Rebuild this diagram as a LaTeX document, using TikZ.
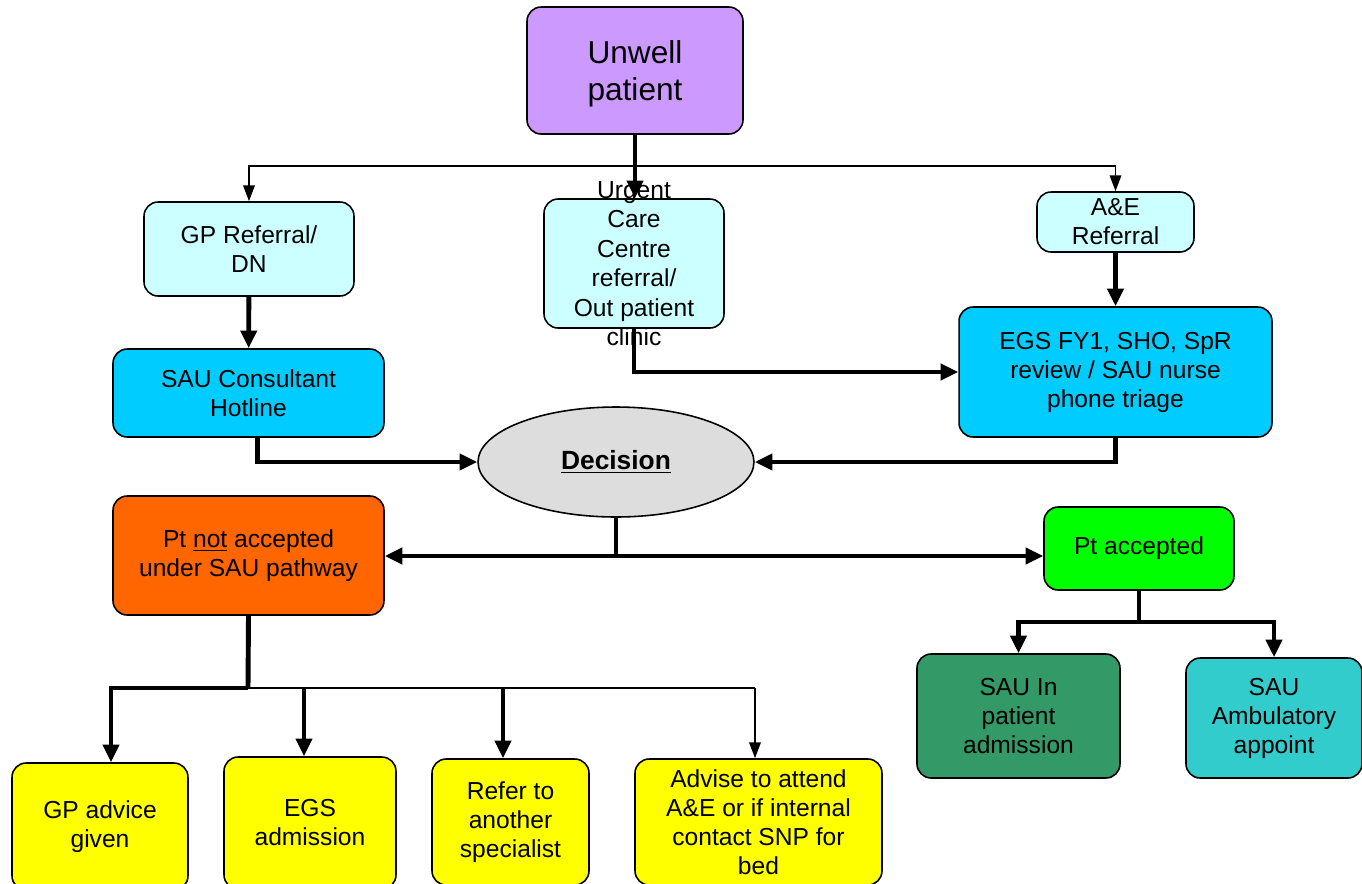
\documentclass[tikz,border=0pt]{standalone}
\usepackage{fontspec}
\setmainfont{Liberation Sans}
\usetikzlibrary{arrows.meta, shapes.geometric}

\definecolor{unwellfill}{HTML}{CC99FF}
\definecolor{reffill}{HTML}{CCFFFF}
\definecolor{reviewfill}{HTML}{00CCFF}
\definecolor{decisionfill}{HTML}{DDDDDD}
\definecolor{rejectfill}{HTML}{FF6600}
\definecolor{acceptfill}{HTML}{00FF00}
\definecolor{inpatfill}{HTML}{339966}
\definecolor{ambfill}{HTML}{33CCCC}
\definecolor{outcomefill}{HTML}{FFFF00}

\begin{document}
\begin{tikzpicture}[x=0.02cm, y=-0.02cm]

\tikzset{box/.style = {shape=rectangle, draw, rounded corners=8pt, line width=0.9pt, align=center, inner sep=2pt, font=\fontsize{14}{16.5}\selectfont}}
\tikzset{link/.style = {line width=2.8pt}}
\tikzset{edge/.style = {link, -{Triangle[length=10pt,width=9pt]}}}
\tikzset{thinlink/.style = {line width=1.1pt}}
\tikzset{thinedge/.style = {thinlink, -{Triangle[length=9pt,width=6.5pt]}}}

\useasboundingbox (0,0) rectangle (1362,883);
% vertices
\node[box, fill=unwellfill, minimum width=4.32cm, minimum height=2.54cm, font=\fontsize{18}{21}\selectfont, text depth=0pt] (unwell) at (635,70.5) {Unwell\\patient};
\node[box, fill=reffill, minimum width=4.2cm, minimum height=1.88cm] (gp) at (249,249) {GP Referral/\\DN};
\node[box, fill=reffill, minimum width=3.6cm, minimum height=2.58cm] (ucc) at (634,263.5) {};
\node[align=center, font=\fontsize{14}{16.8}\selectfont] (ucctext) at (ucc.center) {Urgent\\Care\\Centre\\referral/\\Out patient\\clinic};
\node[box, fill=reffill, minimum width=3.14cm, minimum height=1.2cm] (ae) at (1115.5,222) {A\&E\\Referral};
\node[box, fill=reviewfill, minimum width=6.26cm, minimum height=2.6cm] (egs) at (1115.5,372) {EGS FY1, SHO, SpR\\review / SAU nurse\\phone triage};
\node[box, fill=reviewfill, minimum width=5.42cm, minimum height=1.76cm] (hotline) at (248.5,393) {SAU Consultant\\Hotline};
\node[shape=ellipse, draw, line width=0.9pt, fill=decisionfill, minimum width=5.52cm, minimum height=2.2cm, font=\fontsize{15}{17}\selectfont\bfseries] (decision) at (616,462) {\underline{Decision}};
\node[box, fill=rejectfill, minimum width=5.42cm, minimum height=2.38cm] (notacc) at (248.5,555.5) {Pt \underline{not} accepted\\under SAU pathway};
\node[box, fill=acceptfill, minimum width=3.8cm, minimum height=1.66cm] (acc) at (1139,548.5) {Pt accepted};
\node[box, fill=inpatfill, minimum width=4.06cm, minimum height=2.48cm] (inpat) at (1018.5,716) {SAU In\\patient\\admission};
\node[box, fill=ambfill, minimum width=3.52cm, minimum height=2.4cm] (amb) at (1274,718) {SAU\\Ambulatory\\appoint};
\node[box, fill=outcomefill, minimum width=3.52cm, minimum height=2.54cm] (gpadv) at (100,826.5) {GP advice\\given};
\node[box, fill=outcomefill, minimum width=3.44cm, minimum height=2.64cm] (egsadm) at (310,823) {EGS\\admission};
\node[box, fill=outcomefill, minimum width=3.14cm, minimum height=2.52cm] (refer) at (510.5,822) {Refer to\\another\\specialist};
\node[box, fill=outcomefill, minimum width=4.94cm, minimum height=2.52cm] (advise) at (758.5,822) {Advise to attend\\A\&E or if internal\\contact SNP for\\bed};
% junctions
\coordinate (split) at (635,166);
\coordinate (fork) at (616,556);
\coordinate (low) at (248,688);
\coordinate (accfork) at (1139,622);
%edges
\draw[thinedge] (split) -| (gp.north);
\draw[thinedge] (split) -| (ae.north);
\draw[edge] (unwell.south) -- (unwell.south |- ucc.north);
\draw[edge] (gp) -- (hotline);
\draw[edge] (ae) -- (egs);
\draw[edge] (ucc.south) |- (egs.west);
\draw[edge] ([xshift=0.18cm]hotline.south) |- (decision.west);
\draw[edge] (egs.south) |- (decision.east);
\draw[link] (decision.south) -- (fork);
\draw[edge] (fork) -- (notacc.east |- fork);
\draw[edge] (fork) -- (acc.west |- fork);
\draw[link] (notacc.south) -- (low);
\draw[edge] (low) -| ([xshift=0.22cm]gpadv.north);
\draw[thinlink] (low) -- ([xshift=-0.07cm]low -| advise.north);
\draw[edge] ([xshift=-0.12cm]low -| egsadm.north) -- ([xshift=-0.12cm]egsadm.north);
\draw[edge] ([xshift=-0.15cm]low -| refer.north) -- ([xshift=-0.15cm]refer.north);
\draw[thinedge] ([xshift=-0.07cm]low -| advise.north) -- ([xshift=-0.07cm]advise.north);
\draw[link] (acc) -- (accfork);
\draw[edge] (accfork) -| (inpat.north);
\draw[edge] (accfork) -| (amb.north);
\end{tikzpicture}
\end{document}
